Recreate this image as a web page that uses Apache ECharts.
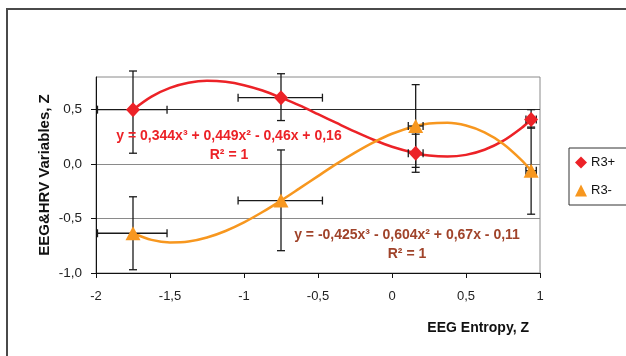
<!DOCTYPE html>
<html>
<head>
<meta charset="utf-8">
<script src="https://cdn.jsdelivr.net/npm/echarts@6/dist/echarts.min.js"></script>
<style>
html,body{margin:0;padding:0;background:#fff;}
#chart{width:626px;height:356px;}
</style>
</head>
<body>
<div id="chart"></div>
<script>
// ---- data ----
const pointX = [-1.75, -0.75, 0.16, 0.94];
const r3PlusY = [0.50, 0.61, 0.10, 0.41];
const r3MinusY = [-0.635, -0.335, 0.35, -0.06];

const errXLow  = [-1.99, -1.04, 0.11, 0.905];
const errXHigh = [-1.52, -0.47, 0.21, 0.975];
const r3PlusYLow  = [0.10, 0.40, -0.075, 0.33];
const r3PlusYHigh = [0.855, 0.83, 0.275, 0.50];
const r3MinusYLow  = [-0.97, -0.795, -0.03, -0.46];
const r3MinusYHigh = [-0.30, 0.13, 0.73, 0.34];

// trend curves
const trendPlusX = [-1.75, -1.625, -1.5, -1.375, -1.25, -1.125, -1.0, -0.875, -0.75, -0.625, -0.5, -0.375, -0.25, -0.125, 0, 0.16, 0.25, 0.375, 0.5, 0.625, 0.75, 0.875, 0.94];
const trendPlusY = [0.50, 0.62, 0.70, 0.747, 0.765, 0.756, 0.725, 0.676, 0.61, 0.539, 0.459, 0.378, 0.298, 0.224, 0.16, 0.10, 0.078, 0.069, 0.085, 0.132, 0.213, 0.332, 0.41];
const trendMinusX = [-1.75, -1.625, -1.5, -1.375, -1.25, -1.125, -1.0, -0.875, -0.75, -0.625, -0.5, -0.375, -0.25, -0.125, 0, 0.16, 0.25, 0.375, 0.5, 0.625, 0.75, 0.875, 0.94];
const trendMinusY = [-0.635, -0.696, -0.719, -0.711, -0.674, -0.614, -0.535, -0.44, -0.335, -0.223, -0.11, 0.002, 0.106, 0.20, 0.279, 0.35, 0.373, 0.379, 0.354, 0.291, 0.187, 0.037, -0.06];

const seriesNames = ['R3+', 'R3-'];
const yTickValues = [-1, -0.5, 0, 0.5];
const eqPlus = 'y = 0,344x³ + 0,449x² - 0,46x + 0,16';
const eqMinus = 'y = -0,425x³ - 0,604x² + 0,67x - 0,11';
const r2Text = 'R² = 1';
const xAxisTitle = 'EEG Entropy, Z';
const yAxisTitle = 'EEG&HRV Variables, Z';

// ---- styles ----
const RED = '#EC2227';
const ORANGE = '#F7971F';
const BROWN = '#A0432A';
const FONT = '"Liberation Sans", Arial, sans-serif';

function zip(xs, ys) { return xs.map((x, i) => [x, ys[i]]); }
function errData(ys, yl, yh) {
  return pointX.map((x, i) => [x, ys[i], errXLow[i], errXHigh[i], yl[i], yh[i]]);
}
function errRender(params, api) {
  const x = api.value(0), y = api.value(1);
  const xl = api.value(2), xh = api.value(3), yl = api.value(4), yh = api.value(5);
  const pxl = api.coord([xl, y]), pxh = api.coord([xh, y]);
  const pyl = api.coord([x, yl]), pyh = api.coord([x, yh]);
  const cap = 4;
  const st = { stroke: '#1a1a1a', lineWidth: 1.3 };
  const lines = [
    [pyl[0], pyl[1], pyh[0], pyh[1]],
    [pyl[0] - cap, pyl[1], pyl[0] + cap, pyl[1]],
    [pyh[0] - cap, pyh[1], pyh[0] + cap, pyh[1]],
    [pxl[0], pxl[1], pxh[0], pxh[1]],
    [pxl[0], pxl[1] - cap, pxl[0], pxl[1] + cap],
    [pxh[0], pxh[1] - cap, pxh[0], pxh[1] + cap]
  ];
  return {
    type: 'group',
    children: lines.map(l => ({
      type: 'line',
      shape: { x1: l[0], y1: l[1], x2: l[2], y2: l[3] },
      style: st
    }))
  };
}

const chart = echarts.init(document.getElementById('chart'), null, { renderer: 'canvas' });
const option = {
  animation: false,
  backgroundColor: '#fff',
  textStyle: { fontFamily: FONT },
  grid: {
    left: 96, right: 86, top: 77, bottom: 83,
    show: true, borderColor: '#8a8a8a', borderWidth: 1, backgroundColor: 'transparent'
  },
  xAxis: {
    type: 'value', min: -2, max: 1, interval: 0.5,
    axisLine: { show: true, onZero: false, lineStyle: { color: '#111', width: 1 } },
    axisTick: { show: true, inside: false, length: 5, lineStyle: { color: '#111' } },
    splitLine: { show: false },
    axisLabel: {
      color: '#222', fontSize: 13, fontFamily: FONT, margin: 17,
      formatter: v => String(v).replace('.', ',')
    }
  },
  yAxis: {
    type: 'value', min: -1, max: 0.8, interval: 0.5,
    axisLine: { show: true, onZero: false, lineStyle: { color: '#111', width: 1 } },
    axisTick: { show: true, inside: false, length: 5, lineStyle: { color: '#111' }, customValues: yTickValues },
    splitLine: { show: true, lineStyle: { color: ['#8a8a8a', '#8a8a8a', '#8a8a8a', '#2a2a2a', '#8a8a8a'], width: 1 } },
    axisLabel: {
      color: '#222', fontSize: 13.5, fontFamily: FONT, margin: 14,
      customValues: yTickValues,
      formatter: v => v.toFixed(1).replace('.', ',')
    }
  },
  legend: {
    data: seriesNames,
    orient: 'vertical',
    left: 569, top: 148,
    padding: [8, 14, 8, 6],
    itemGap: 15,
    itemWidth: 12, itemHeight: 12,
    borderColor: '#333', borderWidth: 1,
    backgroundColor: '#fff',
    textStyle: { fontSize: 13, color: '#111', fontFamily: FONT, padding: [0, 0, 0, -1] }
  },
  series: [
    {
      type: 'line', name: 'trendPlus', data: zip(trendPlusX, trendPlusY),
      smooth: 0.3, showSymbol: false, symbol: 'none', silent: true,
      lineStyle: { color: RED, width: 2.5 }, z: 2
    },
    {
      type: 'line', name: 'trendMinus', data: zip(trendMinusX, trendMinusY),
      smooth: 0.3, showSymbol: false, symbol: 'none', silent: true,
      lineStyle: { color: ORANGE, width: 2.5 }, z: 2
    },
    {
      type: 'custom', name: 'errPlus', renderItem: errRender,
      data: errData(r3PlusY, r3PlusYLow, r3PlusYHigh), z: 3, clip: false,
      encode: { x: 0, y: 1 }
    },
    {
      type: 'custom', name: 'errMinus', renderItem: errRender,
      data: errData(r3MinusY, r3MinusYLow, r3MinusYHigh), z: 3, clip: false,
      encode: { x: 0, y: 1 }
    },
    {
      type: 'scatter', name: seriesNames[0], data: zip(pointX, r3PlusY),
      symbol: 'diamond', symbolSize: [14, 15],
      itemStyle: { color: RED, opacity: 1 }, z: 5
    },
    {
      type: 'scatter', name: seriesNames[1], data: zip(pointX, r3MinusY),
      symbol: 'triangle', symbolSize: [15, 14],
      itemStyle: { color: ORANGE, opacity: 1 }, z: 5
    }
  ],
  graphic: [
    {
      type: 'rect', silent: true, z: 100,
      shape: { x: 7, y: 9, width: 700, height: 400 },
      style: { fill: 'none', stroke: '#4a4a4a', lineWidth: 2 }
    },
    {
      type: 'text', x: 229, y: 136, z: 50,
      style: { text: eqPlus, fill: RED, font: 'bold 14px ' + FONT, align: 'center', verticalAlign: 'middle' }
    },
    {
      type: 'text', x: 229, y: 155, z: 50,
      style: { text: r2Text, fill: RED, font: 'bold 14px ' + FONT, align: 'center', verticalAlign: 'middle' }
    },
    {
      type: 'text', x: 407, y: 235, z: 50,
      style: { text: eqMinus, fill: BROWN, font: 'bold 14px ' + FONT, align: 'center', verticalAlign: 'middle' }
    },
    {
      type: 'text', x: 407, y: 254, z: 50,
      style: { text: r2Text, fill: BROWN, font: 'bold 14px ' + FONT, align: 'center', verticalAlign: 'middle' }
    },
    {
      type: 'text', x: 529, y: 328, z: 50,
      style: { text: xAxisTitle, fill: '#111', font: 'bold 14px ' + FONT, align: 'right', verticalAlign: 'middle' }
    },
    {
      type: 'text', x: 45, y: 175, rotation: Math.PI / 2, z: 50,
      style: { text: yAxisTitle, fill: '#111', font: 'bold 15px ' + FONT, align: 'center', verticalAlign: 'middle' }
    }
  ]
};
chart.setOption(option);
</script>
</body>
</html>
